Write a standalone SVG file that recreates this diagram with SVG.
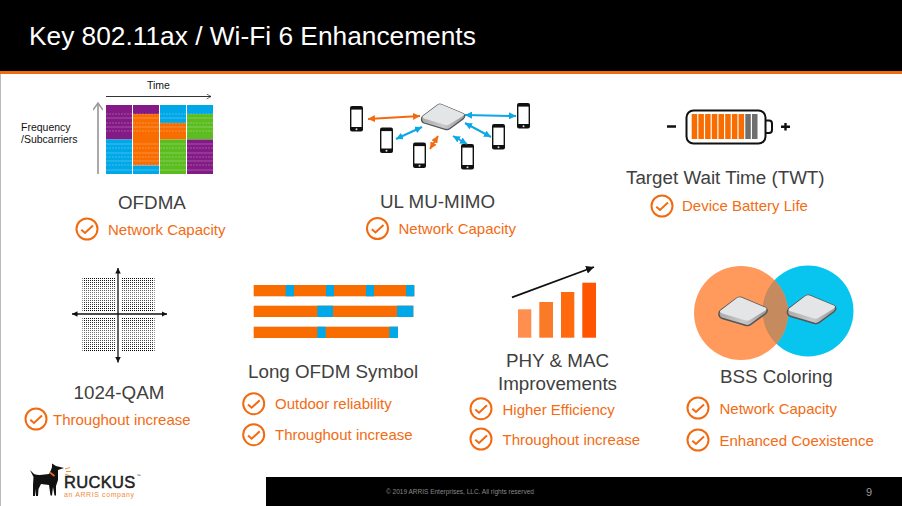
<svg xmlns="http://www.w3.org/2000/svg" width="902" height="506" viewBox="0 0 902 506">
<style>
text{font-family:"Liberation Sans",Arial,sans-serif}
.t{font-size:18.8px;fill:#404040}
.l{font-size:15px;fill:#f26c14}
.s{font-size:10.5px;fill:#111}
.ck{fill:none;stroke:#f26a10;stroke-width:2}
.or{fill:#f96c00}.bl{fill:#00a8e8}.pu{fill:#841a85}.gr{fill:#5cbd20}
.ao{stroke:#f26a10;stroke-width:2;fill:none;marker-start:url(#mo);marker-end:url(#mo)}
.ab{stroke:#0ea7e6;stroke-width:2;fill:none;marker-start:url(#mb);marker-end:url(#mb)}
.ax{stroke:#111;stroke-width:1.3;fill:none;marker-start:url(#mk);marker-end:url(#mk)}
</style>
<defs>
<marker id="mo" viewBox="0 0 10 10" refX="10" refY="5" markerUnits="userSpaceOnUse" markerWidth="7" markerHeight="7" orient="auto-start-reverse"><path d="M0 0L10 5L0 10z" fill="#f26a10"/></marker>
<marker id="mb" viewBox="0 0 10 10" refX="10" refY="5" markerUnits="userSpaceOnUse" markerWidth="7" markerHeight="7" orient="auto-start-reverse"><path d="M0 0L10 5L0 10z" fill="#0ea7e6"/></marker>
<marker id="mk" viewBox="0 0 10 10" refX="10" refY="5" markerUnits="userSpaceOnUse" markerWidth="5.500" markerHeight="5.500" orient="auto-start-reverse"><path d="M0 0L10 5L0 10z" fill="#111"/></marker>
<marker id="mk2" viewBox="0 0 10 10" refX="10" refY="5" markerUnits="userSpaceOnUse" markerWidth="8" markerHeight="8" orient="auto"><path d="M0 0L10 5L0 10z" fill="#111"/></marker>
<marker id="mt" viewBox="0 0 10 10" refX="9" refY="5" markerWidth="6" markerHeight="6" orient="auto"><path d="M2 1L9 5L2 9" fill="none" stroke="#333" stroke-width="1.2"/></marker>
<marker id="mg" viewBox="0 0 10 10" refX="9" refY="5" markerWidth="5" markerHeight="5" orient="auto"><path d="M2 0L9 5L2 10" fill="none" stroke="#999" stroke-width="1.5"/></marker>
<g id="check"><circle r="10.5" class="ck"/><path d="M-5.7 .7L-2 4L6 -3.5" class="ck"/></g>
<g id="phone"><rect width="13" height="25.5" rx="2" fill="#111"/><rect x="1.4" y="3.6" width="10.2" height="17.4" fill="#fff"/><circle cx="6.5" cy="23.2" r="1" fill="#ddd"/></g>
<linearGradient id="side" x1="0" x2="1" y1="0" y2="0"><stop offset="0" stop-color="#aaa"/><stop offset=".5" stop-color="#c9c9c9"/><stop offset="1" stop-color="#999"/></linearGradient>
<g id="ap">
<path d="M-6 -11.500Q-4 -13.500 -1.500 -12.500L20 -3.500Q22 -2.500 21.500 0Q21 1 20 2L7 11.500Q5 13 3 12.500L-19 6Q-21.500 5 -21.500 2.500Q-21.500 0 -20 -1Z" fill="url(#side)" stroke="#555" stroke-width="1.300"/>
<path d="M-6 -11.500Q-4 -13.500 -1.500 -12.500L20 -3.500Q22 -2.500 20 -1L6 7.500Q4.500 8.500 2.500 8L-19 1.500Q-21.500 .5 -20 -1Z" fill="#e4e5e7"/>
</g>
<pattern id="dots" width="2" height="2" patternUnits="userSpaceOnUse"><rect width="1" height="1" fill="#000"/></pattern>
<linearGradient id="fade" x1="0" x2="0" y1="0" y2="1"><stop offset="0" stop-color="#fff" stop-opacity="0"/><stop offset=".5" stop-color="#fff" stop-opacity=".5"/><stop offset="1" stop-color="#fff" stop-opacity="0"/></linearGradient>
<clipPath id="cb"><circle cx="808" cy="311" r="45.5"/></clipPath>
</defs>
<rect width="902" height="506" fill="#fff"/>
<rect x="0" y="74" width="1" height="432" fill="#bbb"/>
<g id="header">
<rect width="902" height="71" fill="#000"/>
<rect y="71" width="902" height="3" fill="#f26a10"/>
<text x="29" y="45" font-size="26.300" fill="#fff">Key 802.11ax / Wi-Fi 6 Enhancements</text>
</g>
<g id="ofdma">
<text class="s" x="147" y="88.500">Time</text>
<text class="s" x="21" y="130.500">Frequency</text>
<text class="s" x="21" y="143">/Subcarriers</text>
<path d="M106 96.500H211" stroke="#333" marker-end="url(#mt)" fill="none"/>
<path d="M98 174V103" stroke="#aaa" stroke-width="2" marker-end="url(#mg)" fill="none"/>
<rect class="pu" x="106" y="105" width="26" height="34.500"/><rect class="bl" x="106" y="139.500" width="26" height="34.500"/>
<rect class="pu" x="133" y="105" width="26" height="9"/><rect class="or" x="133" y="114" width="26" height="51.500"/><rect class="bl" x="133" y="165.500" width="26" height="8.500"/>
<rect class="bl" x="160" y="105" width="26" height="18"/><rect class="or" x="160" y="123" width="26" height="16.500"/><rect class="gr" x="160" y="139.500" width="26" height="34.500"/>
<rect class="bl" x="187" y="105" width="26" height="9"/><rect class="gr" x="187" y="114" width="26" height="25.500"/><rect class="pu" x="187" y="139.500" width="26" height="34.500"/>
<path d="M106 118H213M106 127H213M106 144H213M106 153H213M106 161H213M106 170H213" stroke="#fff" stroke-opacity=".25" fill="none"/>
<path d="M106 114H213M106 123H213M106 131H213M106 148H213M106 157H213M106 165H213" stroke="#fff" stroke-opacity=".25" stroke-dasharray="2 1" fill="none"/>
<text class="t" x="118" y="208.500">OFDMA</text>
<use href="#check" x="87" y="229"/>
<text class="l" x="108" y="235">Network Capacity</text>
</g>
<g id="mu-mimo">
<use href="#phone" x="350" y="106"/><use href="#phone" x="380" y="127.500"/><use href="#phone" x="413" y="142.500"/>
<use href="#phone" x="461" y="144"/><use href="#phone" x="492" y="124"/><use href="#phone" x="517" y="103"/>
<use href="#ap" x="443" y="117"/>
<text class="t" x="380" y="207.500">UL MU-MIMO</text>
<use href="#check" x="377.500" y="228.500"/>
<text class="l" x="398.500" y="234">Network Capacity</text>
</g>
<g id="twt">
<rect x="686.500" y="110.500" width="79" height="33" rx="7" fill="#fff" stroke="#111" stroke-width="2"/>
<path d="M765.500 120.500H769a3 3 0 0 1 3 3V130a3 3 0 0 1-3 3H765.500" fill="none" stroke="#111" stroke-width="2"/>
<path d="M667 126.500H676M781 126.700H790M785.500 123V130.500" stroke="#111" stroke-width="2.400" fill="none"/>
<g class="or"><rect x="691.700" y="114" width="5.500" height="25"/><rect x="698.400" y="114" width="5.500" height="25"/><rect x="705.100" y="114" width="5.500" height="25"/><rect x="711.800" y="114" width="5.500" height="25"/><rect x="718.500" y="114" width="5.500" height="25"/><rect x="725.200" y="114" width="5.500" height="25"/><rect x="731.900" y="114" width="5.500" height="25"/><rect x="738.600" y="114" width="5.500" height="25"/></g>
<rect x="745.300" y="114" width="5.500" height="25" fill="#6f6f6f"/><rect x="752" y="114" width="5.500" height="25" fill="#6f6f6f"/>
<text class="t" x="626" y="184">Target Wait Time (TWT)</text>
<use href="#check" x="662" y="206"/>
<text class="l" x="682" y="211">Device Battery Life</text>
</g>
<g id="qam">
<rect x="82.500" y="278" width="32.500" height="33" fill="url(#dots)"/><rect x="121" y="278" width="33.500" height="33" fill="url(#dots)"/>
<rect x="82.500" y="317" width="32.500" height="34" fill="url(#dots)"/><rect x="121" y="317" width="33.500" height="34" fill="url(#dots)"/>
<rect x="82.500" y="278" width="72" height="33" fill="url(#fade)"/><rect x="82.500" y="317" width="72" height="34" fill="url(#fade)"/>
<path class="ax" d="M72 314H167"/>
<path class="ax" d="M118 268V362.500"/>
<text class="t" x="73.500" y="399">1024-QAM</text>
<use href="#check" x="36" y="419"/>
<text class="l" x="53" y="425">Throughout increase</text>
</g>
<g id="long-ofdm">
<rect class="or" x="253.700" y="285" width="160.600" height="11.300"/>
<rect class="bl" x="285.700" y="285" width="8.300" height="11.300"/><rect class="bl" x="326" y="285" width="8" height="11.300"/><rect class="bl" x="366" y="285" width="8" height="11.300"/><rect class="bl" x="406" y="285" width="8.300" height="11.300"/>
<rect class="or" x="253.700" y="305.700" width="159.600" height="11.300"/>
<rect class="bl" x="317.300" y="305.700" width="15.700" height="11.300"/><rect class="bl" x="397" y="305.700" width="16.300" height="11.300"/>
<rect class="or" x="253.700" y="326.700" width="144.300" height="11.300"/>
<rect class="bl" x="317.300" y="326.700" width="8.400" height="11.300"/><rect class="bl" x="389.300" y="326.700" width="8.700" height="11.300"/>
<text class="t" x="248" y="377.700">Long OFDM Symbol</text>
<use href="#check" x="253.700" y="403.700"/>
<text class="l" x="275" y="408.700">Outdoor reliability</text>
<use href="#check" x="253.700" y="434.700"/>
<text class="l" x="275" y="439.700">Throughout increase</text>
</g>
<g id="phy-mac">
<rect x="518" y="309.300" width="13.300" height="28.400" fill="#ff8f4f"/>
<rect x="539.300" y="302" width="13.700" height="35.700" fill="#fb7a28"/>
<rect x="561" y="292" width="13.300" height="45.700" fill="#ff6a0f"/>
<rect x="582.300" y="282.700" width="13.700" height="55" fill="#ff5500"/>
<path d="M512 297.300L594 267" stroke="#111" stroke-width="1.800" marker-end="url(#mk2)" fill="none"/>
<text class="t" x="557.500" y="366.700" text-anchor="middle">PHY &amp; MAC</text>
<text class="t" x="557.500" y="389.500" text-anchor="middle">Improvements</text>
<use href="#check" x="481" y="408.700"/>
<text class="l" x="502.500" y="415">Higher Efficiency</text>
<use href="#check" x="481" y="439"/>
<text class="l" x="502.500" y="445">Throughout increase</text>
</g>
<g id="bss">
<circle cx="808" cy="311" r="45.500" fill="#08c5f0"/>
<circle cx="741" cy="313" r="47" fill="#ff9a5c"/>
<circle cx="741" cy="313" r="47" fill="#c68a5f" clip-path="url(#cb)"/>
<use href="#ap" transform="translate(743 311.500) scale(1.120)"/>
<use href="#ap" transform="translate(811.500 309.500) scale(1.120)"/>
<text class="t" x="720" y="382.700">BSS Coloring</text>
<use href="#check" x="698" y="408"/>
<text class="l" x="719.500" y="413.700">Network Capacity</text>
<use href="#check" x="698" y="440"/>
<text class="l" x="719.500" y="445.700">Enhanced Coexistence</text>
</g>
<g id="logo">
<path d="M30 470L34 474Q36 475 40 475L49 474L51 470L52 467L52 463.500L56 466L64 468L58 470L58 474L58 480L56 486L56 495.500L54.500 495.500L53 487L52 495.500L50.500 495.500L49 485L41 484L38.500 489L38 496L36 496L35.500 489L35 496L33 496L33 485L33.500 477Z" fill="#111"/>
<path d="M50 472.500L54.500 476" stroke="#f26a10" stroke-width="1.600" fill="none"/>
<path d="M65 469L70 467.500M66 471.500L71 471.500M65 474L69.500 475.500" stroke="#f5943f" stroke-width="1" fill="none"/>
<text x="64" y="488" font-size="16.500" letter-spacing=".3" fill="#222" stroke="#222" stroke-width=".5">RUCKUS</text>
<text x="136.500" y="477" font-size="4" fill="#222">™</text>
<text x="64" y="496.500" font-size="7" fill="#f28a3a" letter-spacing=".6">an ARRIS company</text>
</g>
<g id="footer">
<rect x="266" y="477" width="636" height="29" fill="#000"/>
<text x="386" y="494" font-size="6.500" fill="#8a8a8a">© 2019 ARRIS Enterprises, LLC. All rights reserved</text>
<text x="866" y="496" font-size="11" fill="#9a9a9a">9</text>
</g>
<g id="connectors">
<path class="ao" d="M368 119L420 116"/>
<path class="ab" d="M396 139L422 127"/>
<path class="ao" d="M430 149L438 136"/>
<path class="ab" d="M453 136L467 144"/>
<path class="ab" d="M465 123L491 137"/>
<path class="ab" d="M465 115L516 116"/>
</g>
</svg>
